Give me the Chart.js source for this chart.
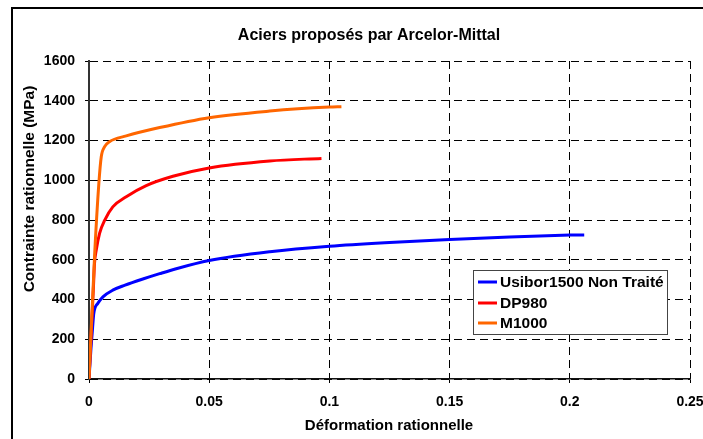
<!DOCTYPE html>
<html><head><meta charset="utf-8">
<script src="https://cdn.jsdelivr.net/npm/chart.js@4/dist/chart.umd.min.js"></script>
<style>html,body{margin:0;padding:0;background:#fff}#wrap{width:703px;height:439px;position:relative}</style>
</head><body><div id="wrap"><canvas id="c" width="703" height="439"></canvas></div>
<script>
const chartTitle = 'Aciers proposés par Arcelor-Mittal';
const xTitle = 'Déformation rationnelle';
const yTitle = 'Contrainte rationnelle (MPa)';
const seriesNames = ['Usibor1500 Non Traité', 'DP980', 'M1000'];
const seriesColors = ['#0000FF', '#FF0000', '#FF6600'];

const usiborStrain = [0, 0.0008, 0.0015, 0.002, 0.0037, 0.0058, 0.0099, 0.015, 0.0224, 0.0294, 0.0363, 0.05, 0.0752, 0.1, 0.125, 0.15, 0.175, 0.2, 0.206];
const usiborStress = [0, 150, 260, 330, 381, 413, 447, 472, 503, 530, 555, 596, 640, 668, 687, 702, 715, 724, 725];

const dp980Strain = [0, 0.001, 0.0018, 0.0023, 0.003, 0.0044, 0.0065, 0.0099, 0.0155, 0.0238, 0.0349, 0.05, 0.0752, 0.0967];
const dp980Stress = [0, 250, 450, 583, 648, 733, 798, 866, 917, 973, 1020, 1062, 1097, 1110];

const m1000Strain = [0, 0.0023, 0.0041, 0.0051, 0.0065, 0.0085, 0.0155, 0.0294, 0.05, 0.0752, 0.1, 0.105];
const m1000Stress = [0, 615, 984, 1118, 1169, 1194, 1223, 1265, 1315, 1348, 1368, 1370];

const xTicks = [0, 0.05, 0.1, 0.15, 0.2, 0.25];
const yTicks = [0, 200, 400, 600, 800, 1000, 1200, 1400, 1600];

const FONT = '"Liberation Sans", Arial, sans-serif';
const toPts = (xs, ys) => xs.map((x, i) => ({x: x, y: ys[i]}));

const decor = {
  id: 'decor',
  afterDraw(chart) {
    const ctx = chart.ctx;
    ctx.save();
    ctx.fillStyle = '#000';
    ctx.fillRect(11, 7, 2, 439);
    ctx.fillRect(11, 7, 703, 2);
    ctx.fillStyle = '#000';
    ctx.textAlign = 'center';
    ctx.textBaseline = 'middle';
    ctx.font = 'bold 16px ' + FONT;
    ctx.fillText(chartTitle, 369, 36);
    ctx.font = 'bold 15px ' + FONT;
    ctx.fillText(xTitle, 389, 426);
    ctx.save();
    ctx.translate(30, 189);
    ctx.rotate(-Math.PI / 2);
    ctx.font = 'bold 15.5px ' + FONT;
    ctx.fillText(yTitle, 0, 0);
    ctx.restore();
    const lx = 473.5, ly = 270.5, lw = 194, lh = 64;
    ctx.fillStyle = '#fff';
    ctx.fillRect(lx, ly, lw, lh);
    ctx.strokeStyle = '#444';
    ctx.lineWidth = 1;
    ctx.strokeRect(lx, ly, lw, lh);
    ctx.font = 'bold 15.5px ' + FONT;
    ctx.textAlign = 'left';
    const rows = [282, 303, 323];
    chart.data.datasets.forEach((ds, i) => {
      ctx.strokeStyle = ds.borderColor;
      ctx.lineWidth = 3;
      ctx.beginPath();
      ctx.moveTo(478, rows[i]);
      ctx.lineTo(497, rows[i]);
      ctx.stroke();
      ctx.fillStyle = '#000';
      ctx.fillText(ds.label, 500, rows[i] + 1);
    });
    ctx.restore();
  }
};

const gridCommon = {color: '#000', lineWidth: 1, tickLength: 4, tickColor: '#000', drawTicks: true};

new Chart(document.getElementById('c'), {
  type: 'scatter',
  data: {
    datasets: [
      {label: seriesNames[0], data: toPts(usiborStrain, usiborStress), borderColor: seriesColors[0], order: 3},
      {label: seriesNames[1], data: toPts(dp980Strain, dp980Stress), borderColor: seriesColors[1], order: 2},
      {label: seriesNames[2], data: toPts(m1000Strain, m1000Stress), borderColor: seriesColors[2], order: 1}
    ].map(d => Object.assign(d, {showLine: true, pointRadius: 0, borderWidth: 3, cubicInterpolationMode: 'monotone', fill: false, backgroundColor: d.borderColor}))
  },
  options: {
    responsive: false,
    animation: false,
    devicePixelRatio: 1,
    layout: {padding: {top: 61, right: 13, left: 0, bottom: 0}},
    plugins: {legend: {display: false}, title: {display: false}, tooltip: {enabled: false}},
    scales: {
      x: {
        type: 'linear', min: 0, max: 0.25,
        afterBuildTicks(s) { s.ticks = xTicks.map(v => ({value: v})); },
        afterFit(s) { s.height = 60; s.paddingLeft = 0; s.paddingRight = 0; },
        ticks: {color: '#000', font: {family: FONT, size: 14, weight: 'bold'}, padding: 11, maxRotation: 0, autoSkip: false,
          callback: v => String(+Number(v).toFixed(2))},
        grid: gridCommon,
        border: {display: true, color: '#111', width: 1.5, dash: [8, 5]}
      },
      y: {
        type: 'linear', min: 0, max: 1600,
        afterBuildTicks(s) { s.ticks = yTicks.map(v => ({value: v})); },
        afterFit(s) { s.width = 89; s.paddingTop = 0; s.paddingBottom = 0; },
        ticks: {color: '#000', font: {family: FONT, size: 14, weight: 'bold'}, padding: 10, autoSkip: false,
          callback: v => String(v)},
        grid: gridCommon,
        border: {display: true, color: '#333', width: 2, dash: [8, 5]}
      }
    }
  },
  plugins: [decor]
});
</script>
</body></html>
